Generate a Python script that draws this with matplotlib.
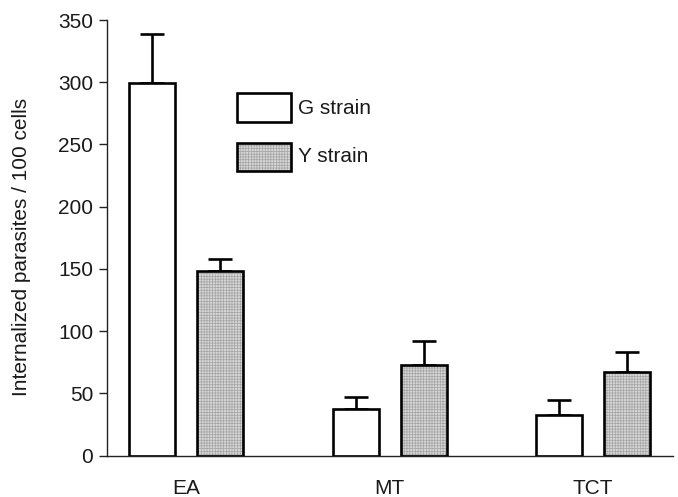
import matplotlib
matplotlib.use("Agg")
import matplotlib.pyplot as plt
from matplotlib.patches import Rectangle
import numpy as np

plt.rcParams['font.family'] = ['Liberation Sans', 'DejaVu Sans']
plt.rcParams['hatch.linewidth'] = 0.5

categories = ["EA", "MT", "TCT"]
g_values = [299, 37.5, 32.5]
g_err = [40, 10, 12]
y_values = [148, 73, 67.5]
y_err = [10, 19, 16]
series_labels = ["G strain", "Y strain"]
y_ticks = [0, 50, 100, 150, 200, 250, 300, 350]

FS = 15
TXT = '#1a1a1a'
W, H = 678, 497
fig = plt.figure(figsize=(W / 100, H / 100), dpi=100)
left_px, right_px, top_px, bottom_px = 107, 673, 20, 455.7
ax = fig.add_axes([left_px / W, (H - bottom_px) / H,
                   (right_px - left_px) / W, (bottom_px - top_px) / H])

x = np.arange(len(categories))
bw = 46 / 203.5
off = 34 / 203.5

hatch_face = '#d6d6d6'
hatch_col = '#a4a4a4'

ax.bar(x - off, g_values, bw, color='white', edgecolor='black', linewidth=1.9, zorder=2)
ax.bar(x + off, y_values, bw, color=hatch_face, edgecolor=hatch_col, linewidth=0,
       hatch='++++++', zorder=2)
ax.bar(x + off, y_values, bw, fill=False, edgecolor='black', linewidth=1.9, zorder=3)
ax.errorbar(x - off, g_values, yerr=[np.zeros(len(g_err)), g_err], fmt='none',
            ecolor='black', elinewidth=1.9, capsize=8.5, capthick=1.9, zorder=1)
ax.errorbar(x + off, y_values, yerr=[np.zeros(len(y_err)), y_err], fmt='none',
            ecolor='black', elinewidth=1.9, capsize=8.5, capthick=1.9, zorder=1)

ax.set_xlim((107 - 186) / 203.5, (673 - 186) / 203.5)
ax.set_ylim(0, 350)
ax.set_yticks(y_ticks)
ax.set_xticks(x)
ax.set_xticklabels(categories)
ax.tick_params(axis='x', length=0, pad=17, labelsize=FS, labelcolor=TXT)
ax.tick_params(axis='y', length=6, width=1, labelsize=FS, pad=4, labelcolor=TXT,
               color='#222222')
ax.spines['top'].set_visible(False)
ax.spines['right'].set_visible(False)
ax.spines['left'].set_linewidth(1)
ax.spines['left'].set_color('#222222')
ax.spines['bottom'].set_linewidth(1)
ax.spines['bottom'].set_color('#222222')
ax.set_ylabel("Internalized parasites / 100 cells", fontsize=FS, color=TXT)
ax.yaxis.set_label_coords((22 - left_px) / (right_px - left_px), 0.478)
ax.yaxis.label.set_verticalalignment('center')

# legend drawn in figure pixel coordinates
def fig_rect(x0, y0, x1, y1, **kw):
    r = Rectangle((x0 / W, 1 - y1 / H), (x1 - x0) / W, (y1 - y0) / H,
                  transform=fig.transFigure, **kw)
    fig.add_artist(r)

fig_rect(237, 93, 291, 122, facecolor='white', edgecolor='black', linewidth=1.9)
fig_rect(237, 143, 291, 171, facecolor=hatch_face, edgecolor=hatch_col, linewidth=0,
         hatch='++++++')
fig_rect(237, 143, 291, 171, fill=False, edgecolor='black', linewidth=1.9)
fig.text(298 / W, 1 - 108 / H, series_labels[0], fontsize=FS, va='center', ha='left', color=TXT)
fig.text(298 / W, 1 - 157 / H, series_labels[1], fontsize=FS, va='center', ha='left', color=TXT)

fig.savefig("out.png", dpi=100)
